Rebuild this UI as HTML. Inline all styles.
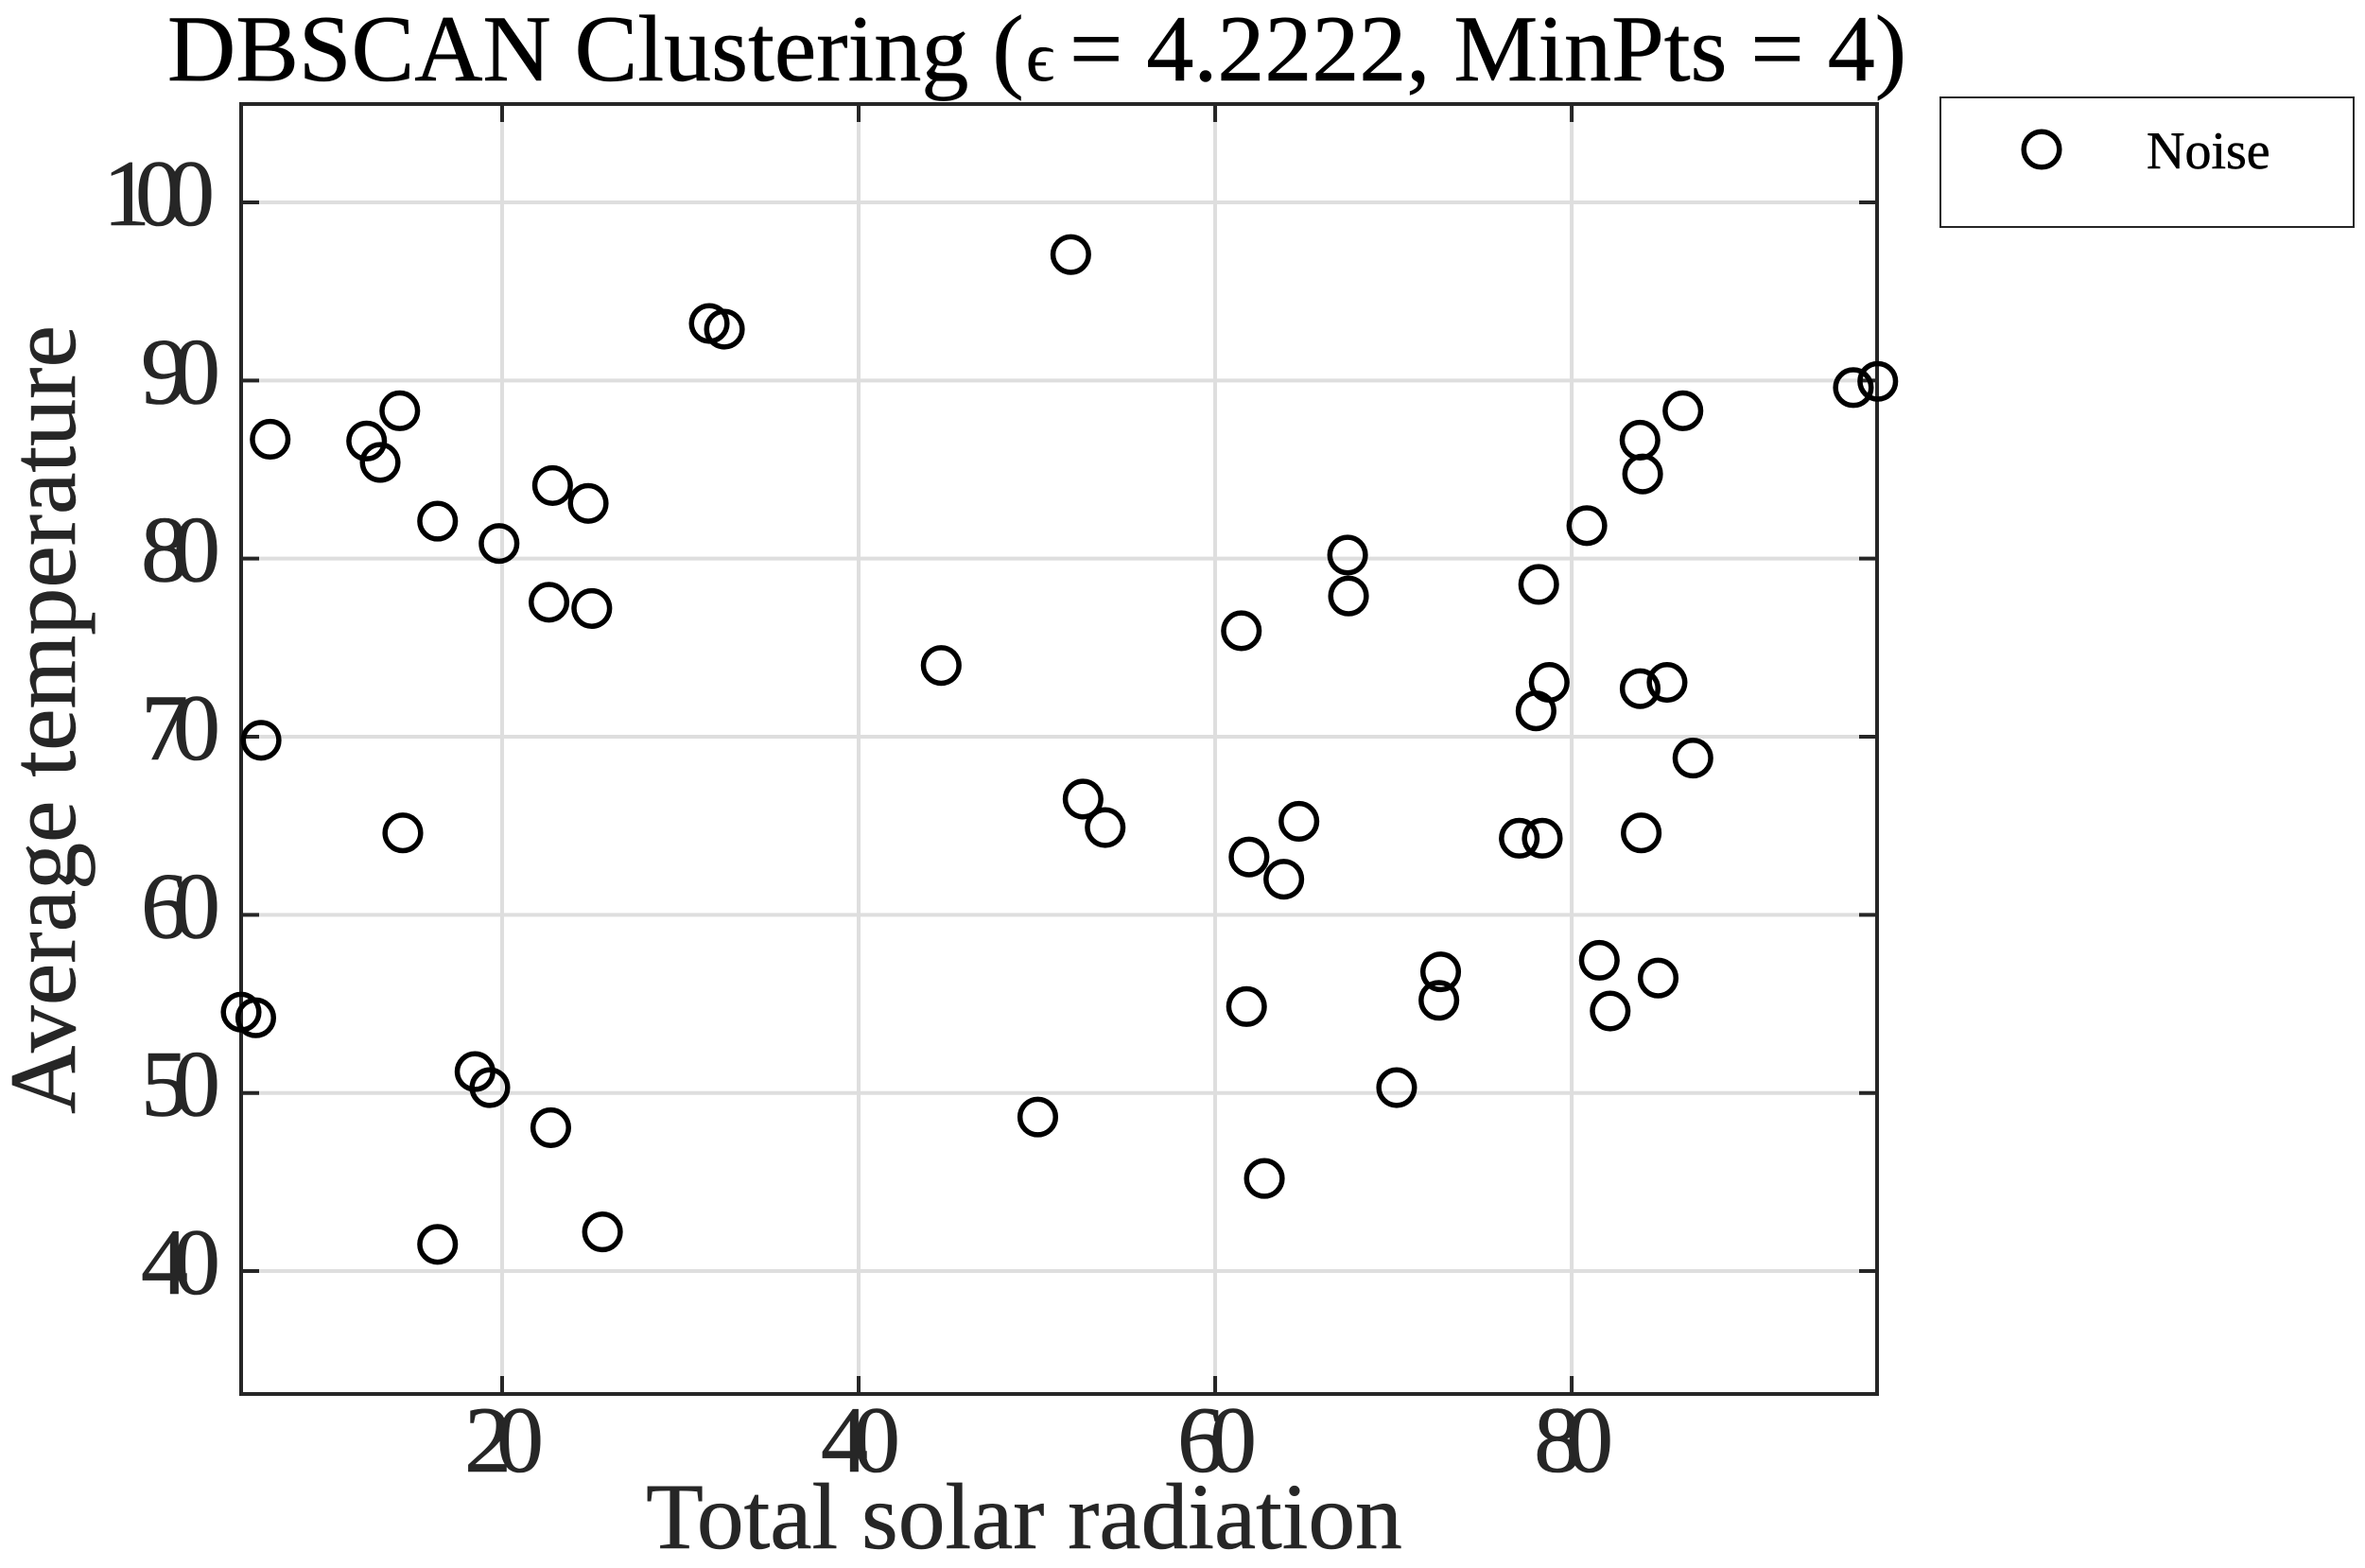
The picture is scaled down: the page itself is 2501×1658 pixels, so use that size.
<!DOCTYPE html>
<html lang="en">
<head>
<meta charset="utf-8">
<title>DBSCAN Clustering</title>
<style>
html,body{margin:0;padding:0;background:#fff;width:2501px;height:1658px;overflow:hidden}
svg{display:block}
text{font-family:"Liberation Serif","DejaVu Serif",serif;text-rendering:geometricPrecision;stroke-width:.6px;paint-order:stroke}
</style>
</head>
<body>
<svg id="chart" xmlns="http://www.w3.org/2000/svg" width="2501" height="1658" viewBox="0 0 2501 1658">
  <rect x="0" y="0" width="2501" height="1658" fill="#fff"/>
  <g id="grid"></g>
  <g id="ticks"></g>
  <rect id="axes-box" x="255" y="110" width="1730" height="1364" fill="none" stroke="#262626" stroke-width="4"/>
  <g id="tick-labels"></g>
  <g id="points"></g>
  <text y="85" font-size="100" fill="#000" stroke="#000"><tspan x="177">DBSCAN Clustering (</tspan><tspan x="1085" font-size="74">ϵ</tspan><tspan x="1131">= 4.2222, MinPts = 4)</tspan></text>
  <text x="1083" y="1637" font-size="99.5" text-anchor="middle" fill="#262626" stroke="#262626">Total solar radiation</text>
  <text transform="translate(79,761) rotate(-90)" font-size="100" text-anchor="middle" fill="#262626" stroke="#262626">Average temperature</text>
  <g>
    <rect x="2052" y="103" width="437" height="137" fill="#fff" stroke="#262626" stroke-width="2"/>
    <circle cx="2159" cy="158" r="18.8" fill="none" stroke="#000" stroke-width="5.5"/>
    <text x="2270" y="178" font-size="56" fill="#000" stroke="#000">Noise</text>
  </g>
</svg>
<script>
const xTickValues = [20, 40, 60, 80];
const yTickValues = [40, 50, 60, 70, 80, 90, 100];
const xTickLabels = ["20", "40", "60", "80"];
const yTickLabels = ["40", "50", "60", "70", "80", "90", "100"];
const xValues = [51.9, 31.62, 32.47, 6.99, 12.4, 13.16, 14.26, 16.38, 19.83, 22.83, 24.83, 22.63, 25.03, 44.63, 6.48, 14.43, 5.36, 6.18, 18.48, 19.31, 22.73, 16.38, 25.63, 50.05, 52.59, 53.83, 61.47, 67.43, 67.48, 78.15, 80.85, 83.83, 83.98, 86.24, 95.8, 97.17, 78.74, 78.0, 83.84, 85.35, 86.8, 83.9, 77.06, 78.35, 64.7, 61.9, 63.85, 61.76, 72.65, 72.55, 81.55, 84.85, 82.16, 70.18, 62.76];
const yValues = [97.07, 93.2, 92.88, 86.7, 86.6, 85.4, 88.3, 82.1, 80.85, 84.1, 83.1, 77.55, 77.2, 74.0, 69.8, 64.6, 54.54, 54.22, 51.2, 50.3, 48.05, 41.5, 42.2, 48.65, 66.5, 64.9, 75.95, 80.2, 77.9, 78.55, 81.85, 86.65, 84.75, 88.3, 89.6, 89.95, 73.05, 71.45, 72.7, 73.05, 68.8, 64.6, 64.3, 64.3, 65.25, 63.25, 62.0, 54.85, 56.8, 55.2, 57.45, 56.45, 54.6, 50.3, 45.2];

const NS = "http://www.w3.org/2000/svg";
const plot = { left: 255, right: 1985, top: 110, bottom: 1474 };
const xDomain = [5.36, 97.13];
const yDomain = [33.1, 105.52];
function xScale(v) { return plot.left + (v - xDomain[0]) / (xDomain[1] - xDomain[0]) * (plot.right - plot.left); }
function yScale(v) { return plot.bottom - (v - yDomain[0]) / (yDomain[1] - yDomain[0]) * (plot.bottom - plot.top); }
function lineEl(x1, y1, x2, y2, color, width) {
  const l = document.createElementNS(NS, "line");
  l.setAttribute("x1", x1); l.setAttribute("y1", y1);
  l.setAttribute("x2", x2); l.setAttribute("y2", y2);
  l.setAttribute("stroke", color); l.setAttribute("stroke-width", width);
  return l;
}
const gridG = document.getElementById("grid");
const ticksG = document.getElementById("ticks");
const labelsG = document.getElementById("tick-labels");
const pointsG = document.getElementById("points");
const GRID = "#dedede", AXIS = "#262626", TICK = 19;

xTickValues.forEach(function (v, i) {
  const x = xScale(v);
  const g = lineEl(x, plot.top, x, plot.bottom, GRID, 4);
  
  
  gridG.appendChild(g);
  const t1 = lineEl(x, plot.bottom, x, plot.bottom - TICK, AXIS, 4);
  
  
  ticksG.appendChild(t1);
  const t2 = lineEl(x, plot.top, x, plot.top + TICK, AXIS, 4);
  
  
  ticksG.appendChild(t2);
  const t = document.createElementNS(NS, "text");
  t.setAttribute("x", x - 6);
  t.setAttribute("y", 1556);
  t.setAttribute("font-size", 100);
  t.setAttribute("letter-spacing", -16);
  t.setAttribute("text-anchor", "middle");
  t.setAttribute("fill", AXIS);
  t.setAttribute("stroke", AXIS);
  t.textContent = xTickLabels[i];
  
  
  labelsG.appendChild(t);
});

yTickValues.forEach(function (v, i) {
  const y = yScale(v);
  const g = lineEl(plot.left, y, plot.right, y, GRID, 4);
  
  
  gridG.appendChild(g);
  const t1 = lineEl(plot.left, y, plot.left + TICK, y, AXIS, 4);
  
  
  ticksG.appendChild(t1);
  const t2 = lineEl(plot.right, y, plot.right - TICK, y, AXIS, 4);
  
  
  ticksG.appendChild(t2);
  const t = document.createElementNS(NS, "text");
  const label = yTickLabels[i];
  t.setAttribute("x", label.length > 2 ? 211 : 217);
  t.setAttribute("y", y + 24);
  t.setAttribute("font-size", 100);
  t.setAttribute("letter-spacing", -16);
  t.setAttribute("text-anchor", "end");
  t.setAttribute("fill", AXIS);
  t.setAttribute("stroke", AXIS);
  t.textContent = label;
  
  
  labelsG.appendChild(t);
});

xValues.forEach(function (v, i) {
  const c = document.createElementNS(NS, "circle");
  c.setAttribute("cx", xScale(v));
  c.setAttribute("cy", yScale(yValues[i]));
  c.setAttribute("r", 18.8);
  c.setAttribute("fill", "none");
  c.setAttribute("stroke", "#000");
  c.setAttribute("stroke-width", 5.5);
  
  
  pointsG.appendChild(c);
});
</script>
</body>
</html>
